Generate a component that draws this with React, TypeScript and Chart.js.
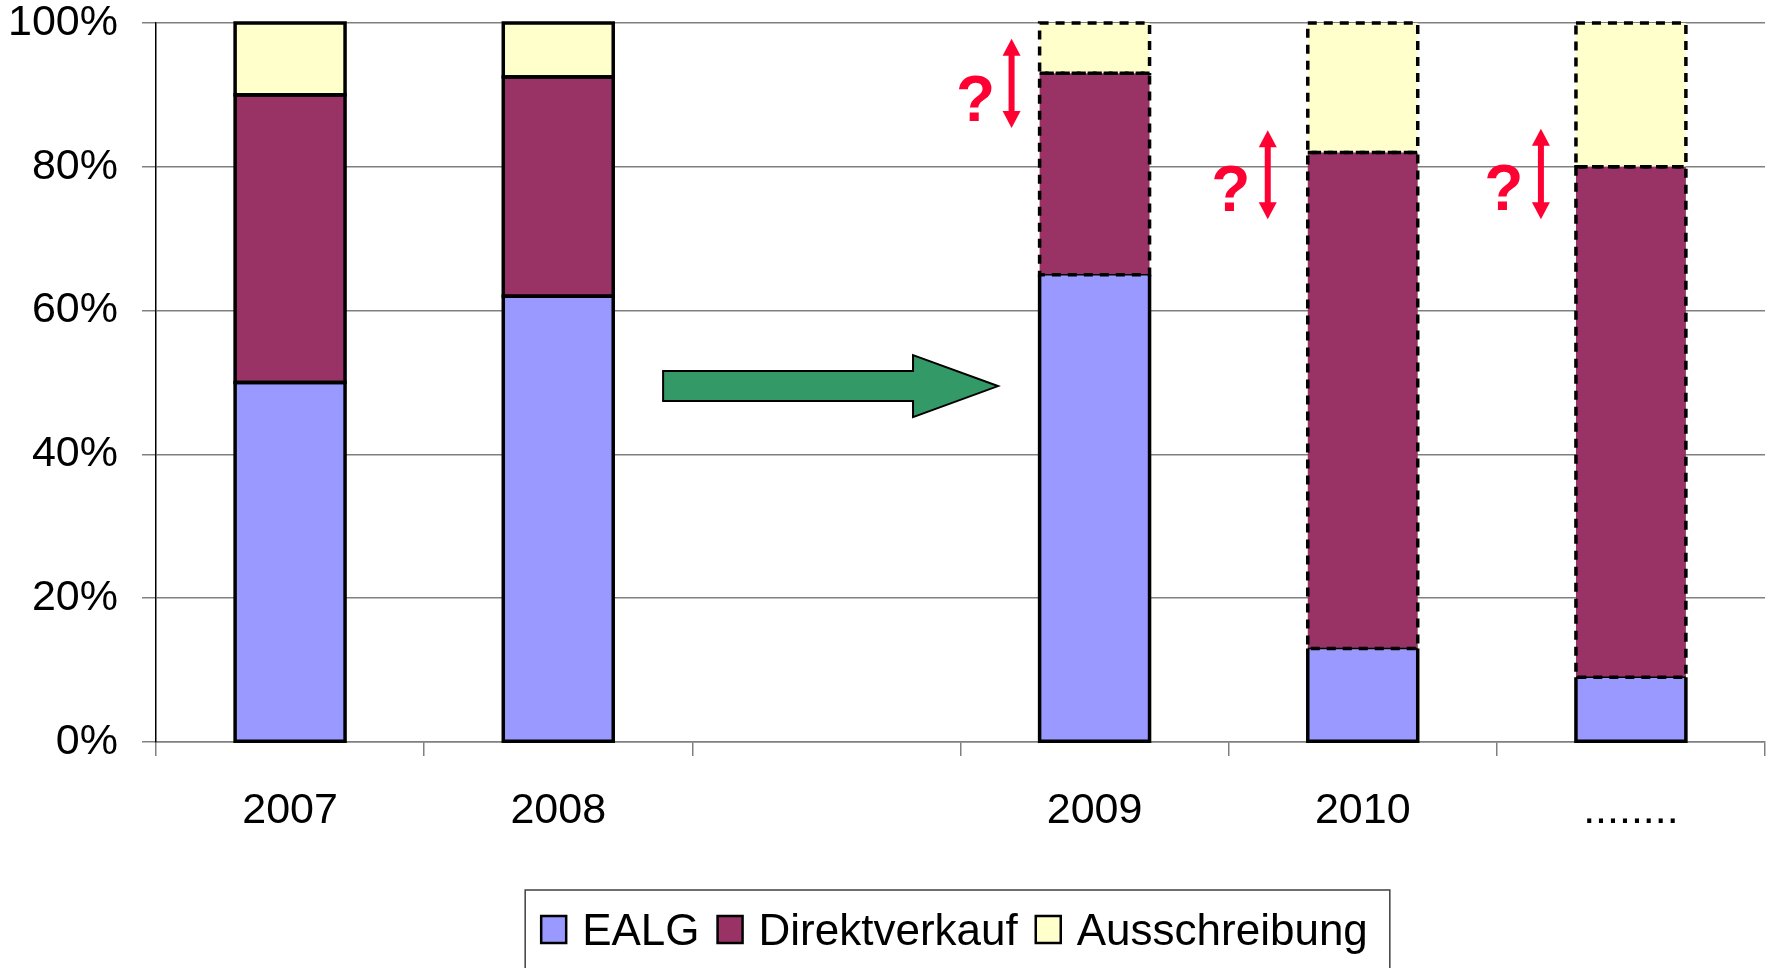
import React, { useEffect, useRef } from 'react';
import { Chart, registerables } from 'chart.js';

Chart.register(...registerables);

// ---- data ----
const categories = ['2007', '2008', '', '2009', '2010', '........'];
const seriesNames = ['EALG', 'Direktverkauf', 'Ausschreibung'];
const ealg = [50, 62, null, 65, 13, 9];
const direktverkauf = [40, 30.5, null, 28, 69, 71];
const ausschreibung = [10, 7.5, null, 7, 18, 20];
const yTickValues = [0, 20, 40, 60, 80, 100];
const firstForecastIndex = 3;

// ---- decorations (anchored to scale values) ----
const transitionArrow = { cat: 2, value: 49.5 };
const uncertaintyMarks = [
  { cat: 3, top: 97.8, bottom: 85.4, dx: -83, qdx: -119, qBase: 86.4 },
  { cat: 4, top: 85.1, bottom: 72.7, dx: -95, qdx: -132, qBase: 73.8 },
  { cat: 5, top: 85.3, bottom: 72.7, dx: -90, qdx: -127, qBase: 74.0 },
];

const colors = ['#9999FF', '#993366', '#FFFFCC'];
const FONT = "'Liberation Sans', Arial, Helvetica, sans-serif";

const decorPlugin = {
  id: 'decor',
  afterDatasetsDraw(chart: any) {
    const ctx = chart.ctx as CanvasRenderingContext2D;
    const xs = chart.scales.x;
    const ys = chart.scales.y;
    ctx.save();
    ctx.strokeStyle = '#000';
    // bar borders
    chart.data.datasets.forEach((ds: any, di: number) => {
      const meta = chart.getDatasetMeta(di);
      meta.data.forEach((el: any, j: number) => {
        if (ds.data[j] == null) return;
        const p = el.getProps(['x', 'y', 'base', 'width'], true);
        const l = p.x - p.width / 2;
        const r = p.x + p.width / 2;
        const t = Math.min(p.y, p.base);
        const b = Math.max(p.y, p.base);
        const forecast = j >= firstForecastIndex;
        ctx.lineWidth = 3.5;
        if (!forecast) {
          ctx.setLineDash([]);
          ctx.strokeRect(l, t, r - l, b - t);
        } else if (di === 0) {
          ctx.setLineDash([]);
          ctx.beginPath();
          ctx.moveTo(l, t);
          ctx.lineTo(l, b);
          ctx.lineTo(r, b);
          ctx.lineTo(r, t);
          ctx.stroke();
          ctx.lineWidth = 1.5;
          ctx.beginPath();
          ctx.moveTo(l, t);
          ctx.lineTo(r, t);
          ctx.stroke();
        } else {
          ctx.setLineDash([9, 7]);
          ctx.lineWidth = 3.5;
          ctx.strokeRect(l, t, r - l, b - t);
        }
      });
    });
    ctx.setLineDash([]);

    // green transition arrow
    const w = (xs.right - xs.left) / categories.length;
    const cx = xs.getPixelForValue(transitionArrow.cat);
    const cy = ys.getPixelForValue(transitionArrow.value);
    const tail = cx - 0.609 * w;
    const headBase = cx + 0.323 * w;
    const tip = cx + 0.64 * w;
    ctx.beginPath();
    ctx.moveTo(tail, cy - 15);
    ctx.lineTo(headBase, cy - 15);
    ctx.lineTo(headBase, cy - 31);
    ctx.lineTo(tip, cy);
    ctx.lineTo(headBase, cy + 31);
    ctx.lineTo(headBase, cy + 15);
    ctx.lineTo(tail, cy + 15);
    ctx.closePath();
    ctx.fillStyle = '#339966';
    ctx.fill();
    ctx.lineWidth = 2;
    ctx.lineJoin = 'miter';
    ctx.strokeStyle = '#000';
    ctx.stroke();

    // red double arrows with question marks
    const red = '#FF0033';
    uncertaintyMarks.forEach((m) => {
      const x = xs.getPixelForValue(m.cat) + m.dx;
      const yt = ys.getPixelForValue(m.top);
      const yb = ys.getPixelForValue(m.bottom);
      const hl = 17;
      const hw = 9;
      ctx.strokeStyle = red;
      ctx.fillStyle = red;
      ctx.lineWidth = 6;
      ctx.beginPath();
      ctx.moveTo(x, yt + hl - 2);
      ctx.lineTo(x, yb - hl + 2);
      ctx.stroke();
      ctx.beginPath();
      ctx.moveTo(x, yt);
      ctx.lineTo(x + hw, yt + hl);
      ctx.lineTo(x - hw, yt + hl);
      ctx.closePath();
      ctx.fill();
      ctx.beginPath();
      ctx.moveTo(x, yb);
      ctx.lineTo(x + hw, yb - hl);
      ctx.lineTo(x - hw, yb - hl);
      ctx.closePath();
      ctx.fill();
      ctx.font = `bold 64px ${FONT}`;
      ctx.textAlign = 'center';
      ctx.textBaseline = 'alphabetic';
      ctx.fillText('?', xs.getPixelForValue(m.cat) + m.qdx, ys.getPixelForValue(m.qBase));
    });

    // legend with box
    const fontSize = 44;
    ctx.font = `${fontSize}px ${FONT}`;
    const sw = 25, sh = 27, gapText = 16, itemGap = 18, padL = 16, padR = 22;
    const labels = chart.data.datasets.map((d: any) => d.label as string);
    const widths = labels.map((t: string) => ctx.measureText(t).width);
    const total =
      padL + padR + labels.length * (sw + gapText) + widths.reduce((a: number, b: number) => a + b, 0) + itemGap * (labels.length - 1);
    const center = (chart.chartArea.left + chart.chartArea.right) / 2 - 3;
    const boxL = center - total / 2;
    const boxT = 890;
    ctx.lineWidth = 1.5;
    ctx.strokeStyle = '#404040';
    ctx.strokeRect(boxL, boxT, total, 120);
    let xp = boxL + padL;
    const baseY = 945;
    labels.forEach((t: string, i: number) => {
      ctx.fillStyle = chart.data.datasets[i].backgroundColor;
      ctx.fillRect(xp, 916, sw, sh);
      ctx.lineWidth = 2.5;
      ctx.strokeStyle = '#000';
      ctx.strokeRect(xp, 916, sw, sh);
      xp += sw + gapText;
      ctx.fillStyle = '#000';
      ctx.textAlign = 'left';
      ctx.textBaseline = 'alphabetic';
      ctx.fillText(t, xp, baseY);
      xp += widths[i] + itemGap;
    });
    ctx.restore();
  },
};

export default function App() {
  const ref = useRef<HTMLCanvasElement | null>(null);

  useEffect(() => {
    if (!ref.current) return;
    const seriesData = [ealg, direktverkauf, ausschreibung];
    const chart = new Chart(ref.current, {
      type: 'bar',
      data: {
        labels: categories,
        datasets: seriesNames.map((name, i) => ({
          label: name,
          data: seriesData[i],
          backgroundColor: colors[i],
          borderWidth: 0,
          barPercentage: 0.41,
          categoryPercentage: 1,
        })),
      },
      options: {
        animation: false,
        responsive: false,
        devicePixelRatio: 1,
        layout: { padding: { top: 23, right: 12, left: 0, bottom: 0 } },
        plugins: {
          legend: { display: false },
          tooltip: { enabled: false },
          title: { display: false },
        },
        scales: {
          x: {
            stacked: true,
            grid: {
              offset: true,
              drawOnChartArea: false,
              drawTicks: true,
              tickLength: 14,
              color: '#808080',
              lineWidth: 1.5,
            },
            border: { color: '#808080', width: 1.5 },
            ticks: {
              font: { family: FONT, size: 43 },
              color: '#000',
              padding: 29,
              maxRotation: 0,
              autoSkip: false,
            },
            afterFit: (s: any) => {
              s.height = 226;
              s.paddingLeft = 0;
              s.paddingRight = 0;
            },
          },
          y: {
            stacked: true,
            min: 0,
            max: 100,
            grid: {
              color: '#808080',
              lineWidth: 1.5,
              tickLength: 14,
            },
            border: { color: '#000', width: 1.5 },
            afterBuildTicks: (s: any) => {
              s.ticks = yTickValues.map((v) => ({ value: v }));
            },
            ticks: {
              font: { family: FONT, size: 43 },
              color: '#000',
              padding: 24,
              callback: (v: any) => `${v}%`,
            },
            afterFit: (s: any) => {
              s.width = 156;
              s.paddingTop = 0;
              s.paddingBottom = 0;
            },
          },
        },
      },
      plugins: [decorPlugin],
    });
    return () => chart.destroy();
  }, []);

  return (
    <div style={{ position: 'fixed', left: 0, top: 0, width: 1777, height: 968, background: '#fff' }}>
      <canvas ref={ref} width={1777} height={968} style={{ display: 'block' }} />
    </div>
  );
}
